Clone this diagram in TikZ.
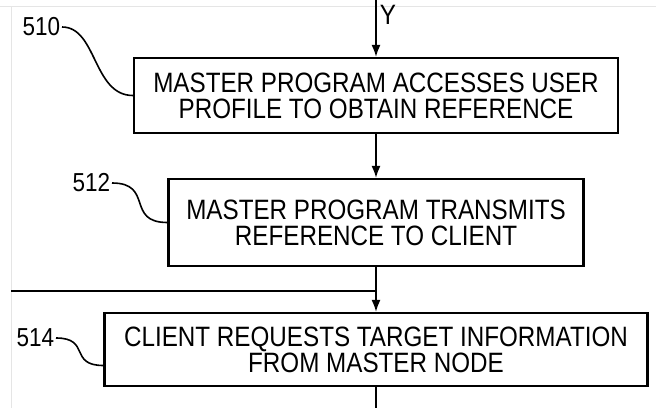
\documentclass[tikz,border=0pt]{standalone}
\usepackage{fontspec}
\setmainfont{Liberation Sans}[FakeStretch=0.865]
\usetikzlibrary{arrows.meta}

\begin{document}
\begin{tikzpicture}[x=1pt, y=1pt, node distance=127pt, >={Latex[length=12pt,width=9pt]},
			line width=1.6pt, main node/.style={rectangle,draw,line width=2.2pt,align=center,
				font=\fontsize{28}{26}\selectfont},
			ref label/.style={font=\fontsize{26}{26}\selectfont, inner sep=1pt}]
			\useasboundingbox (0,0) rectangle (656,408);
			
			% faint scan edges
			\draw[gray!20, line width=0.8pt] (0,402) -- (656,402);
			\draw[gray!20, line width=0.8pt] (11,0) -- (11,402);
			
			\node[main node, minimum width=484pt, minimum height=75pt] (510) at (376,312.5) {MASTER PROGRAM ACCESSES USER\\PROFILE TO OBTAIN REFERENCE};
			\node[main node, minimum width=415pt, minimum height=87pt] (512) [below of=510] {MASTER PROGRAM TRANSMITS\\REFERENCE TO CLIENT};
			\node[main node, minimum width=543pt, minimum height=73pt] (514) [below of=512] {CLIENT REQUESTS TARGET INFORMATION\\FROM MASTER NODE};
			
			\node[ref label, anchor=east] (l510) at (62,381) {510};
			\node[ref label, anchor=east] (l512) at (112,225) {512};
			\node[ref label, anchor=east] (l514) at (56,70) {514};
			
			\coordinate (top) at (376,408);
			\coordinate (bot) at (376,0);
			\coordinate (back) at (11,117);
			
			\draw[->] (top) -- node[pos=0.27, right, font=\fontsize{28}{28}\selectfont, inner sep=3pt] {Y} (510);
			\draw[->] (510) -- (512);
			\draw[->] (512) -- (514);
			\draw (back) -- (back -| 514.north);
			\draw (514) -- (bot);
			
			% leaders
			\draw (l510.east) .. controls +(35,0) and +(-40,0) .. (510.west);
			\draw (l512.east) .. controls +(42,0) and +(-42,0) .. (512.west);
			\draw (l514.east) .. controls +(35,0) and +(-35,0) .. ([yshift=-16pt]514.west);
			
		\end{tikzpicture}
\end{document}
